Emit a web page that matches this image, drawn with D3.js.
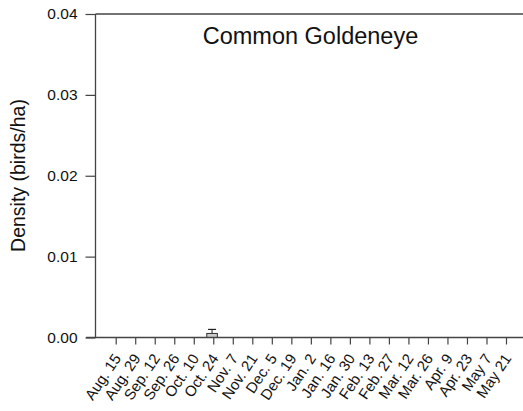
<!DOCTYPE html>
<html><head><meta charset="utf-8">
<script src="https://cdn.jsdelivr.net/npm/d3@7"></script>
<style>body{margin:0;background:#fff}svg{display:block}text{font-family:"Liberation Sans",Arial,sans-serif}</style>
</head><body>
<script>
const categories = ["Aug. 15","Aug. 29","Sep. 12","Sep. 26","Oct. 10","Oct. 24","Nov. 7","Nov. 21","Dec. 5","Dec. 19","Jan. 2","Jan. 16","Jan. 30","Feb. 13","Feb. 27","Mar. 12","Mar. 26","Apr. 9","Apr. 23","May 7","May 21"];
const values = [0,0,0,0,0,0.0005,0,0,0,0,0,0,0,0,0,0,0,0,0,0,0];
const errors = [0,0,0,0,0,0.0005,0,0,0,0,0,0,0,0,0,0,0,0,0,0,0];
const yTicks = [0,0.01,0.02,0.03,0.04];
const title = "Common Goldeneye";
const yLabel = "Density (birds/ha)";

(function(){
const W=523,H=411;
const mLeft=95.5, mTop=14, mBottom=337.5, mRight=523;
const svg=d3.select("body").append("svg").attr("width",W).attr("height",H);
const x=d3.scalePoint().domain(categories).range([115.7,506]);
const y=d3.scaleLinear().domain([0,0.04]).range([mBottom,mTop]);
const axisColor="#444";
const ff="Liberation Sans, Arial, sans-serif";

// bars
const bw=10.6;
const data=categories.map((c,i)=>({c,v:values[i],e:errors[i]})).filter(d=>d.v>0);
svg.selectAll("rect.bar").data(data).join("rect").attr("class","bar")
  .attr("x",d=>x(d.c)-1.2-bw/2).attr("width",bw)
  .attr("y",d=>y(d.v)).attr("height",d=>y(0)-y(d.v))
  .attr("fill","#cccccc").attr("stroke","#333").attr("stroke-width",1);
svg.selectAll("line.err").data(data).join("line").attr("class","err")
  .attr("x1",d=>x(d.c)-1.2).attr("x2",d=>x(d.c)-1.2)
  .attr("y1",d=>y(d.v)).attr("y2",d=>y(d.v+d.e)).attr("stroke","#222");
svg.selectAll("line.cap").data(data).join("line").attr("class","cap")
  .attr("x1",d=>x(d.c)-1.2-4).attr("x2",d=>x(d.c)-1.2+4)
  .attr("y1",d=>y(d.v+d.e)).attr("y2",d=>y(d.v+d.e)).attr("stroke","#222").attr("stroke-width",1.2);

// y axis
const ga=svg.append("g").attr("transform",`translate(${mLeft},0)`)
  .call(d3.axisLeft(y).tickValues(yTicks).tickFormat(d3.format(".2f")).tickSize(10).tickPadding(8));
ga.select(".domain").remove();
ga.selectAll("line").attr("stroke",axisColor).attr("stroke-width",1.2);
ga.selectAll("text").attr("font-size",15.5).attr("fill","#111").style("font-family",ff);
svg.append("line").attr("x1",mLeft).attr("x2",mLeft).attr("y1",mTop).attr("y2",mBottom).attr("stroke",axisColor).attr("stroke-width",1.3);
svg.append("line").attr("x1",mLeft).attr("x2",mRight).attr("y1",mTop).attr("y2",mTop).attr("stroke",axisColor).attr("stroke-width",1.5);

// x axis
const gx=svg.append("g").attr("transform",`translate(0,${mBottom})`)
  .call(d3.axisBottom(x).tickSize(7).tickPadding(4));
gx.select(".domain").remove();
gx.selectAll("line").attr("stroke",axisColor).attr("stroke-width",1.2);
gx.selectAll("text").attr("font-size",15).attr("fill","#111")
  .style("font-family",ff)
  .attr("text-anchor","end").attr("dy","0.35em")
  .attr("transform","translate(1,18) rotate(-56)").attr("y",0).attr("x",0);
svg.append("line").attr("x1",86).attr("x2",mRight).attr("y1",mBottom).attr("y2",mBottom).attr("stroke",axisColor).attr("stroke-width",1.3);

// title
svg.append("text").attr("x",310.5).attr("y",43.5).attr("text-anchor","middle").attr("font-size",23.5).attr("fill","#111").style("font-family",ff).text(title);
svg.append("text").attr("transform","translate(25,175.5) rotate(-90)").attr("text-anchor","middle").attr("font-size",19.5).attr("fill","#111").style("font-family",ff).text(yLabel);
})();
</script>
</body></html>
